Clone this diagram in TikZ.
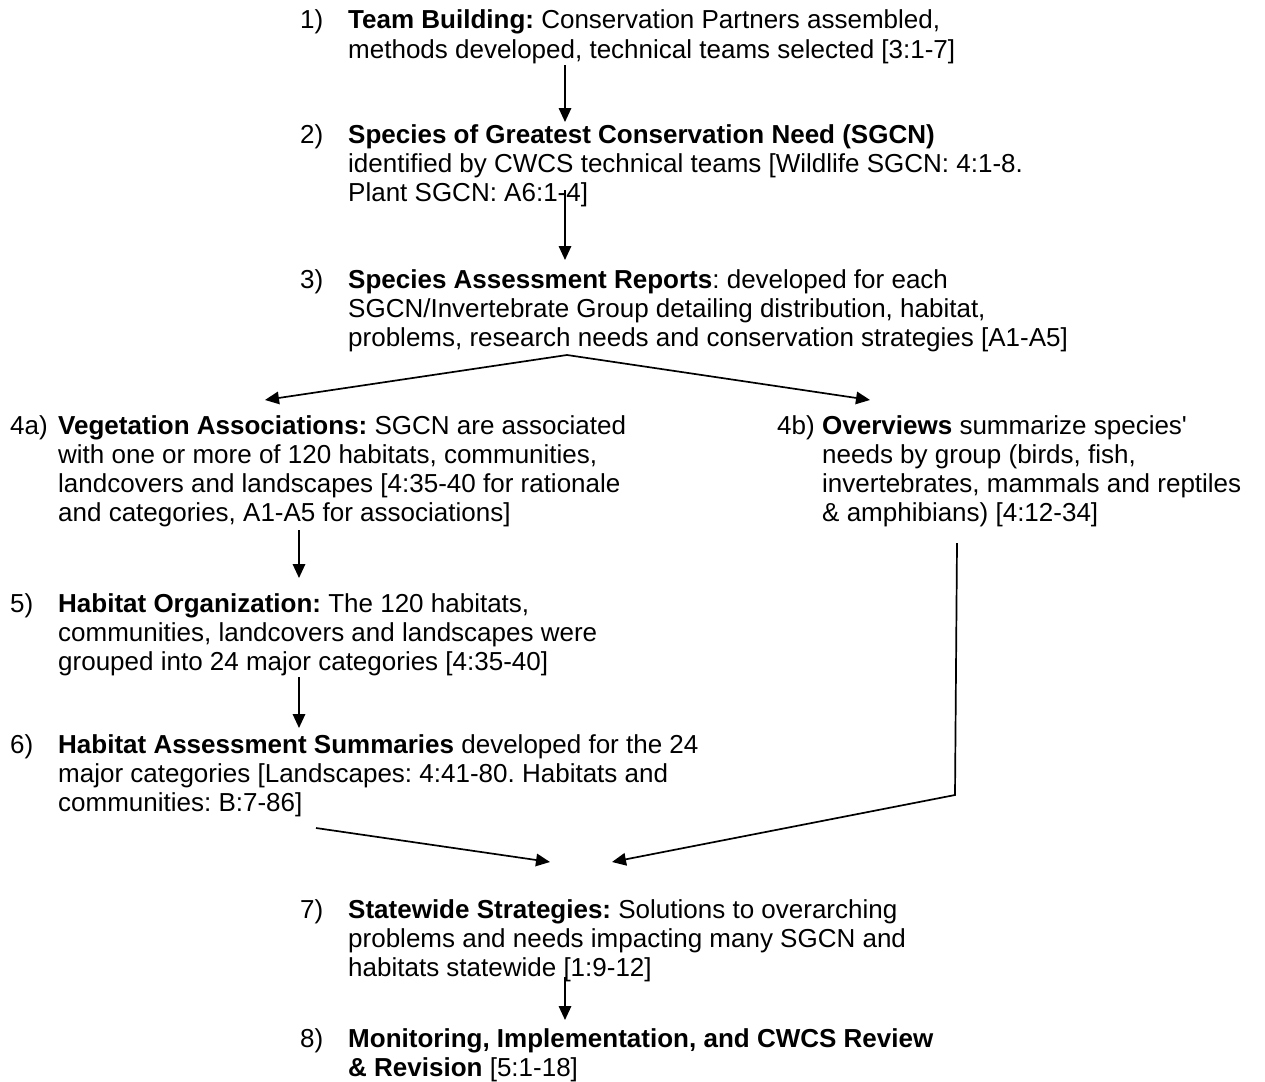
\documentclass[tikz,border=0pt]{standalone}
\usepackage{fontspec}
\setmainfont{Liberation Sans}
\usetikzlibrary{arrows.meta}
\frenchspacing
\begin{document}
\begin{tikzpicture}[x=1pt,y=-1pt,
  txt/.style={anchor=base west, inner sep=0pt, align=left, font=\fontsize{26}{29.3}\selectfont},
  num/.style={anchor=base west, inner sep=0pt, font=\fontsize{26}{29.3}\selectfont},
  arr/.style={line width=1.7pt, -{Triangle[length=14pt,width=12.5pt]}}]
\useasboundingbox (0,0) rectangle (1265,1081);

% item 1 (base anchor of a multi-line node = its last line)
\node[num] (n1) at (300,29) {1)};
\node[txt] (t1) at (348,58.3) {\textbf{Team Building:} Conservation Partners assembled,\\methods developed, technical teams selected [3:1-7]};
% item 2
\node[num] (n2) at (300,143) {2)};
\node[txt] (t2) at (348,201.6) {\textbf{Species of Greatest Conservation Need (SGCN)}\\identified by CWCS technical teams [Wildlife SGCN: 4:1-8.\\Plant SGCN: A6:1-4]};
% item 3
\node[num] (n3) at (300,288) {3)};
\node[txt] (t3) at (348,346.6) {\textbf{Species Assessment Reports}: developed for each\\SGCN/Invertebrate Group detailing distribution, habitat,\\problems, research needs and conservation strategies [A1-A5]};
% item 4a
\node[num] (n4a) at (10,434) {4a)};
\node[txt] (t4a) at (58,521.9) {\textbf{Vegetation Associations:} SGCN are associated\\with one or more of 120 habitats, communities,\\landcovers and landscapes [4:35-40 for rationale\\and categories, A1-A5 for associations]};
% item 4b
\node[num] (n4b) at (777,434) {4b)};
\node[txt] (t4b) at (822,521.9) {\textbf{Overviews} summarize species\textquotesingle\\needs by group (birds, fish,\\invertebrates, mammals and reptiles\\\& amphibians) [4:12-34]};
% item 5
\node[num] (n5) at (10,612) {5)};
\node[txt] (t5) at (58,670.6) {\textbf{Habitat Organization:} The 120 habitats,\\communities, landcovers and landscapes were\\grouped into 24 major categories [4:35-40]};
% item 6
\node[num] (n6) at (10,753) {6)};
\node[txt] (t6) at (58,811.6) {\textbf{Habitat Assessment Summaries} developed for the 24\\major categories [Landscapes: 4:41-80. Habitats and\\communities: B:7-86]};
% item 7
\node[num] (n7) at (300,918) {7)};
\node[txt] (t7) at (348,976.6) {\textbf{Statewide Strategies:} Solutions to overarching\\problems and needs impacting many SGCN and\\habitats statewide [1:9-12]};
% item 8
\node[num] (n8) at (300,1047) {8)};
\node[txt] (t8) at (348,1076.3) {\textbf{Monitoring, Implementation, and CWCS Review}\\\textbf{\& Revision} [5:1-18]};

% connector points
\coordinate (o1) at (565,65);   \coordinate (i2) at (565,122);
\coordinate (o2) at (565,190);  \coordinate (i3) at (565,260);
\coordinate (o3) at (567,355);
\coordinate (i4a) at (265,400); \coordinate (i4b) at (870,400);
\coordinate (o4a) at (299,530); \coordinate (i5) at (299,578);
\coordinate (o5) at (299,677);  \coordinate (i6) at (299,728);
\coordinate (o6) at (316,828);  \coordinate (i7l) at (550,862);
\coordinate (o4b) at (957,543); \coordinate (k4b) at (955,795);
\coordinate (i7r) at (612,862);
\coordinate (o7) at (565,977);  \coordinate (i8) at (565,1020);

\draw[arr] (o1) -- (i2);
\draw[arr] (o2) -- (i3);
\draw[arr] (o3) -- (i4a);
\draw[arr] (o3) -- (i4b);
\draw[arr] (o4a) -- (i5);
\draw[arr] (o5) -- (i6);
\draw[arr] (o6) -- (i7l);
\draw[arr, line join=miter] (o4b) -- (k4b) -- (i7r);
\draw[arr] (o7) -- (i8);
\end{tikzpicture}
\end{document}
